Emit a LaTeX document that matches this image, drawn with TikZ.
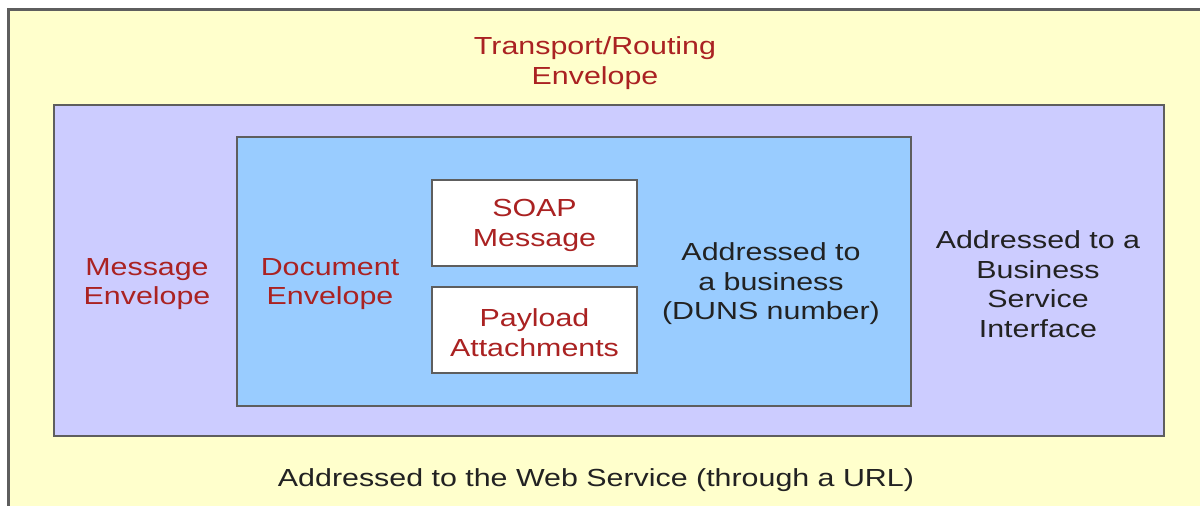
\documentclass[tikz,border=0pt]{standalone}
\usepackage{fontspec}
\setmainfont{Liberation Sans}[FakeStretch=1.23]
\definecolor{bgyellow}{HTML}{FFFFCC}
\definecolor{msgpurple}{HTML}{CCCCFF}
\definecolor{docblue}{HTML}{99CCFF}
\definecolor{redtext}{HTML}{AA2222}
\definecolor{darktext}{HTML}{222222}
\definecolor{edge}{HTML}{5E5E5E}
\tikzset{
  frame/.style={draw=edge, line width=2.6pt, inner sep=0pt},
  lbl/.style={align=center, inner sep=0pt, font=\fontsize{24.7}{29.5}\selectfont},
  redlbl/.style={lbl, text=redtext},
  darklbl/.style={lbl, text=darktext}
}
\begin{document}
\begin{tikzpicture}[x=1pt, y=-1pt]
\useasboundingbox (0,0) rectangle (1200,506);
\fill[white] (0,0) rectangle (1200,506);
\begin{scope}
\clip (0,0) rectangle (1200,506);
\node[frame, fill=bgyellow, anchor=north west, minimum width=1300pt, minimum height=560pt] (outer) at (7,8) {};
\end{scope}
\node[frame, fill=msgpurple, minimum width=1110pt, minimum height=331pt] (msg) at (609,270.5) {};
\node[frame, fill=docblue, minimum width=674pt, minimum height=269pt] (doc) at (574,271.5) {};
\node[frame, fill=white, minimum width=205pt, minimum height=86pt] (soap) at (534.5,223) {};
\node[frame, fill=white, minimum width=205pt, minimum height=86pt] (payload) at (534.5,330) {};

\node[redlbl] (transport) at (595,63) {Transport/Routing\\Envelope};
\node[redlbl] (msgl) at (147,284) {Message\\Envelope};
\node[redlbl] (docl) at (330,284) {Document\\Envelope};
\node[redlbl] at ([yshift=-2.5pt]soap.center) {SOAP\\Message};
\node[redlbl] at ([yshift=-2.5pt]payload.center) {Payload\\Attachments};
\node[darklbl] (duns) at (771,284) {Addressed to\\a business\\(DUNS number)};
\node[darklbl] (bsi) at (1038,284) {Addressed to a\\Business\\Service\\Interface};
\node[darklbl] (url) at (596,480) {Addressed to the Web Service (through a URL)};
\end{tikzpicture}
\end{document}
